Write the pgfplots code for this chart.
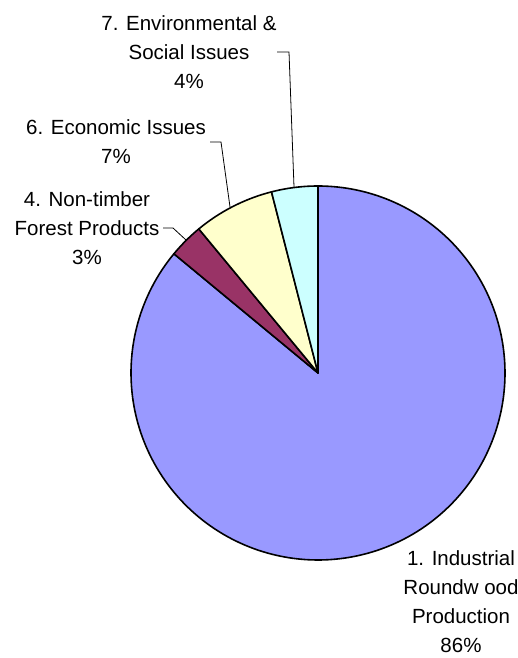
\documentclass[border=0pt]{standalone}
\usepackage{pgfplots}
\usepackage{pgfplotstable}
\pgfplotsset{compat=1.18}
\usepackage{fontspec}
\setmainfont{Liberation Sans}
\definecolor{sliceA}{HTML}{9999FF}
\definecolor{sliceB}{HTML}{993366}
\definecolor{sliceC}{HTML}{FFFFCC}
\definecolor{sliceD}{HTML}{CCFFFF}
\pgfplotstableread{
label value
Industrial 86
NonTimber 3
Economic 7
Environmental 4
}\piedata
\pgfplotstablegetelem{0}{value}\of\piedata \let\vA\pgfplotsretval
\pgfplotstablegetelem{1}{value}\of\piedata \let\vB\pgfplotsretval
\pgfplotstablegetelem{2}{value}\of\piedata \let\vC\pgfplotsretval
\pgfplotstablegetelem{3}{value}\of\piedata \let\vD\pgfplotsretval
% angles: start at 90 deg, clockwise
\pgfmathsetmacro\aA{90-3.6*\vA}
\pgfmathsetmacro\aB{\aA-3.6*\vB+360}
\pgfmathsetmacro\aAp{\aA+360}
\pgfmathsetmacro\aC{\aB-3.6*\vC}
\pgfmathsetmacro\aD{\aC-3.6*\vD}
\def\cx{318}
\def\cy{285}
\def\rr{187}
\begin{document}
\begin{tikzpicture}
\begin{axis}[
  scale only axis, width=518pt, height=658pt,
  xmin=0, xmax=518, ymin=0, ymax=658,
  hide axis, clip=false,
]
\addplot[fill=sliceA, draw=black, line width=1.6pt, line join=round, domain=\aA:90, samples=250, variable=\t]
  ({\cx+\rr*cos(\t)}, {\cy+\rr*sin(\t)}) -- (axis cs:\cx,\cy) -- cycle;
\addplot[fill=sliceB, draw=black, line width=1.6pt, line join=round, domain=\aB:\aAp, samples=15, variable=\t]
  ({\cx+\rr*cos(\t)}, {\cy+\rr*sin(\t)}) -- (axis cs:\cx,\cy) -- cycle;
\addplot[fill=sliceC, draw=black, line width=1.6pt, line join=round, domain=\aC:\aB, samples=30, variable=\t]
  ({\cx+\rr*cos(\t)}, {\cy+\rr*sin(\t)}) -- (axis cs:\cx,\cy) -- cycle;
\addplot[fill=sliceD, draw=black, line width=1.6pt, line join=round, domain=\aD:\aC, samples=20, variable=\t]
  ({\cx+\rr*cos(\t)}, {\cy+\rr*sin(\t)}) -- (axis cs:\cx,\cy) -- cycle;
% leader lines
\addplot[black, line width=0.8pt] coordinates {(277,606) (289,606) (294,471)};
\addplot[black, line width=0.8pt] coordinates {(210,516) (221,516) (230,451)};
\addplot[black, line width=0.8pt] coordinates {(163,430) (173,430) (186,418)};
% labels
\tikzset{lab/.style={align=center, inner sep=0pt, font=\fontsize{20.5}{29}\selectfont}}
\node[lab] at (axis cs:189,606) {7. Environmental \&\\Social Issues\\4\%};
\node[lab] at (axis cs:116,516.5) {6. Economic Issues\\7\%};
\node[lab] at (axis cs:87,430) {4. Non-timber\\Forest Products\\3\%};
\node[lab] at (axis cs:461,56) {1. Industrial\\Roundw ood\\Production\\86\%};
\end{axis}
\pgfresetboundingbox
\useasboundingbox (current axis.south west) rectangle (current axis.north east);
\end{tikzpicture}
\end{document}
